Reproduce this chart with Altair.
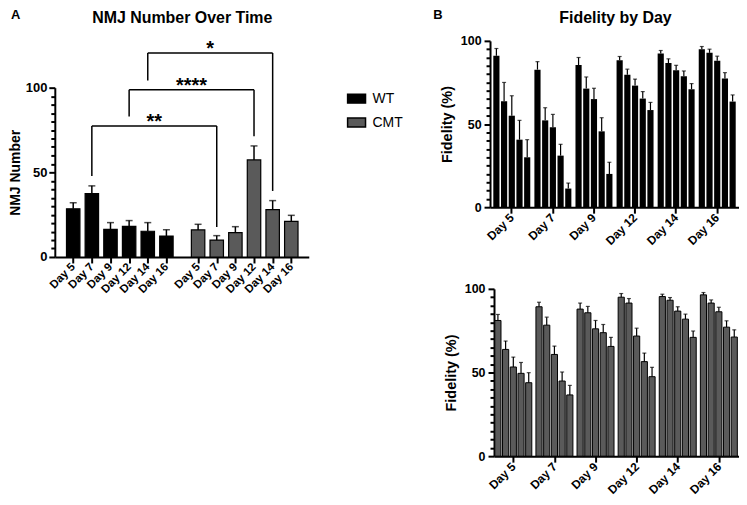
import altair as alt
import pandas as pd

FONT = "Liberation Sans"

days = ["Day 5", "Day 7", "Day 9", "Day 12", "Day 14", "Day 16"]
genotypes = ["WT", "CMT"]

# NMJ number (mean and top of error bar)
wt_mean = [28.5, 37.4, 16.3, 18.1, 15.2, 12.4]
wt_top = [32.0, 42.0, 20.3, 21.5, 20.3, 16.1]
cmt_mean = [16.0, 10.0, 14.4, 57.3, 28.0, 21.0]
cmt_top = [19.3, 12.6, 17.9, 65.6, 33.3, 24.6]

# significance brackets, WT day vs CMT day
sig_day = ["Day 7", "Day 12", "Day 14"]
sig_label = ["**", "****", "*"]
sig_level = [77.4, 98.8, 120.5]
sig_left_end = [47.8, 83.0, 104.3]
sig_right_end = [17.7, 71.3, 39.0]

# fidelity, 5 bars per day
series = ["1", "2", "3", "4", "5"]
fid_wt = [[91.0, 63.7, 55.0, 40.6, 30.0],
          [82.7, 52.2, 48.0, 31.0, 11.2],
          [85.5, 71.3, 65.0, 45.6, 20.0],
          [88.4, 79.7, 73.1, 65.3, 58.4],
          [92.4, 86.7, 82.3, 78.7, 70.9],
          [95.0, 92.8, 88.0, 77.3, 63.5]]
fid_wt_top = [[95.4, 75.0, 67.0, 52.2, 40.6],
              [87.5, 59.8, 55.8, 37.8, 14.5],
              [90.0, 78.3, 71.5, 53.8, 27.0],
              [90.6, 83.0, 77.0, 69.5, 63.0],
              [94.2, 89.2, 85.3, 81.9, 74.3],
              [96.6, 95.0, 90.8, 80.9, 67.5]]
fid_cmt = [[81.1, 63.8, 53.3, 49.5, 43.9],
           [89.3, 78.3, 60.8, 44.9, 36.6],
           [87.9, 85.7, 76.1, 73.8, 65.6],
           [95.0, 91.5, 71.8, 56.5, 47.5],
           [95.4, 93.2, 86.7, 81.9, 71.0],
           [96.4, 91.5, 86.3, 77.1, 71.2]]
fid_cmt_top = [[84.7, 68.8, 59.2, 56.0, 49.9],
               [92.0, 83.1, 65.8, 50.3, 42.3],
               [91.5, 89.5, 81.1, 78.7, 71.0],
               [97.2, 94.2, 76.5, 61.6, 53.1],
               [96.8, 94.8, 89.3, 84.9, 74.8],
               [97.8, 93.4, 89.0, 80.9, 75.5]]

y_ticks = list(range(0, 101, 5))   # minor every 5, labelled every 50
major_js = "datum.value % 50 === 0"
tick_len = {"condition": {"test": major_js, "value": 6}, "value": 4}

GAP = 6.7  # CMT group starts after a wider gap

#%%
# panel A data
rows = []
for g, means, tops, shift in [("WT", wt_mean, wt_top, 0), ("CMT", cmt_mean, cmt_top, GAP)]:
    for i, d in enumerate(days):
        rows.append({"genotype": g, "day": d, "pos": i + shift, "mean": means[i], "top": tops[i]})
nmj = pd.DataFrame(rows)

brackets = pd.DataFrame({
    "label": sig_label,
    "x1": [days.index(d) for d in sig_day],
    "x2": [days.index(d) + GAP for d in sig_day],
    "level": sig_level,
    "left_end": sig_left_end,
    "right_end": sig_right_end,
})
brackets["mid"] = (brackets["x1"] + brackets["x2"]) / 2

days_js = "[" + ",".join("'%s'" % d for d in days) + "]"
xa = alt.Scale(domain=[-0.72, 12.37], nice=False, zero=False)
ya = alt.Scale(domain=[0, 100], range=[217, 47], nice=False)

# tickCount is set so that vega keeps every listed tick value
x_axis_a = alt.Axis(values=list(nmj["pos"]), tickCount=len(nmj), title=None, grid=False,
                    labelExpr=days_js + "[datum.value < 6 ? datum.value : round(datum.value - %s)]" % GAP,
                    labelOverlap=False, labelAngle=315, labelAlign="right", labelBaseline="middle",
                    labelFontSize=11.5, tickSize=6, labelPadding=2)
y_axis_a = alt.Axis(values=y_ticks, tickCount=len(y_ticks), title="NMJ Number", grid=False,
                    labelExpr=major_js + " ? datum.label : ''", labelOverlap=False,
                    tickSize=tick_len, labelFontSize=13, labelPadding=2,
                    titleFontSize=14, titlePadding=3)

bars_a = alt.Chart(nmj).mark_bar(size=13.5, stroke="black", strokeWidth=1.2).encode(
    alt.X("pos:Q", scale=xa, axis=x_axis_a),
    alt.Y("mean:Q", scale=ya, axis=y_axis_a),
    alt.Color("genotype:N", sort=genotypes,
              scale=alt.Scale(domain=genotypes, range=["#000000", "#5a5a5a"]),
              legend=alt.Legend(title=None, orient="none", legendX=293, legendY=48, padding=0,
                                symbolType="M-1,-0.5H1V0.5H-1Z", symbolSize=324,
                                symbolStrokeColor="black", symbolStrokeWidth=1.5,
                                labelFont=FONT, labelFontSize=14, labelFontWeight="normal",
                                labelColor="black", labelOffset=6, rowPadding=6))
)
err_a = alt.Chart(nmj).mark_rule(color="black", strokeWidth=1.5).encode(
    alt.X("pos:Q", scale=xa), alt.Y("mean:Q", scale=ya), alt.Y2("top:Q")
)
cap_a = alt.Chart(nmj).mark_tick(color="black", size=7, thickness=1.5, orient="horizontal").encode(
    alt.X("pos:Q", scale=xa), alt.Y("top:Q", scale=ya)
)
br_h = alt.Chart(brackets).mark_rule(color="black", strokeWidth=1.5).encode(
    alt.X("x1:Q", scale=xa), alt.X2("x2:Q"), alt.Y("level:Q", scale=ya)
)
br_l = alt.Chart(brackets).mark_rule(color="black", strokeWidth=1.5).encode(
    alt.X("x1:Q", scale=xa), alt.Y("level:Q", scale=ya), alt.Y2("left_end:Q")
)
br_r = alt.Chart(brackets).mark_rule(color="black", strokeWidth=1.5).encode(
    alt.X("x2:Q", scale=xa), alt.Y("level:Q", scale=ya), alt.Y2("right_end:Q")
)
br_t = alt.Chart(brackets).mark_text(font=FONT, fontSize=20, fontWeight="bold", dy=2,
                                     baseline="alphabetic", color="black").encode(
    alt.X("mid:Q", scale=xa), alt.Y("level:Q", scale=ya), text="label:N"
)


def label(txt, x, y, size, align="left", baseline="top"):
    return alt.Chart(pd.DataFrame({"t": [txt]})).mark_text(
        font=FONT, fontSize=size, fontWeight="bold", color="black", align=align, baseline=baseline
    ).encode(text="t:N", x=alt.value(x), y=alt.value(y))


panel_a = alt.layer(
    bars_a, err_a, cap_a, br_h, br_l, br_r, br_t,
    label("NMJ Number Over Time", 128, -23, 16, align="center", baseline="middle"),
    label("A", -44, -32, 13),
).properties(width=255, height=217)

#%%
# panel B data
def fid_frame(vals, tops):
    out = []
    for i, d in enumerate(days):
        for j, s in enumerate(series):
            out.append({"day": d, "series": s, "mean": vals[i][j], "top": tops[i][j]})
    return pd.DataFrame(out)


def fid_panel(df, fill, stroke_w, xscale, xoff_pad, y_offset, height, extra=()):
    x = alt.X("day:N", sort=days, scale=xscale,
              axis=alt.Axis(title=None, labelAngle=315, labelAlign="right", labelBaseline="middle",
                            labelOverlap=False, labelFontSize=12, tickSize=6, labelPadding=2))
    xo = alt.XOffset("series:N", sort=series, scale=alt.Scale(paddingInner=xoff_pad))
    yb = alt.Scale(domain=[0, 100], nice=False)
    y = alt.Y("mean:Q", scale=yb,
              axis=alt.Axis(values=y_ticks, tickCount=len(y_ticks), title="Fidelity (%)", grid=False,
                            labelExpr=major_js + " ? datum.label : ''", labelOverlap=False,
                            tickSize=tick_len, labelFontSize=12.5, labelPadding=3,
                            titleFontSize=14.5, titlePadding=6, offset=y_offset))
    bars = alt.Chart(df).mark_bar(color=fill, stroke="black", strokeWidth=stroke_w).encode(x, xo, y)
    err = alt.Chart(df).mark_rule(color="black", strokeWidth=1.2).encode(
        x, xo, alt.Y("mean:Q", scale=yb), alt.Y2("top:Q"))
    cap = alt.Chart(df).mark_tick(color="black", size=4, thickness=1.2, orient="horizontal").encode(
        x, xo, alt.Y("top:Q", scale=yb))
    return alt.layer(bars, err, cap, *extra).properties(width=250, height=height)


top_b = fid_panel(fid_frame(fid_wt, fid_wt_top), "#000000", 0,
                  alt.Scale(paddingInner=0.1, paddingOuter=0.08), 0.2, 0, 167,
                  extra=[label("Fidelity by Day", 126, -23, 16, align="center", baseline="middle"),
                         label("B", -57, -32, 13)])
bottom_b = fid_panel(fid_frame(fid_cmt, fid_cmt_top), "#5a5a5a", 1,
                     alt.Scale(range=[4, 250], paddingInner=0.08, paddingOuter=0.02), 0.22, -4, 168)

panel_b = alt.vconcat(top_b, bottom_b, spacing=82, bounds="flush")

chart = alt.hconcat(panel_a, panel_b, spacing=182, bounds="flush").properties(
    padding=0
).configure_axis(
    domainColor="black", domainWidth=2, tickColor="black", tickWidth=2,
    labelColor="black", titleColor="black", labelFont=FONT, titleFont=FONT,
    labelFontWeight="bold", titleFontWeight="bold", grid=False
).configure_view(stroke=None)

chart.save("out.html", embed_options={"renderer": "svg", "actions": False})
